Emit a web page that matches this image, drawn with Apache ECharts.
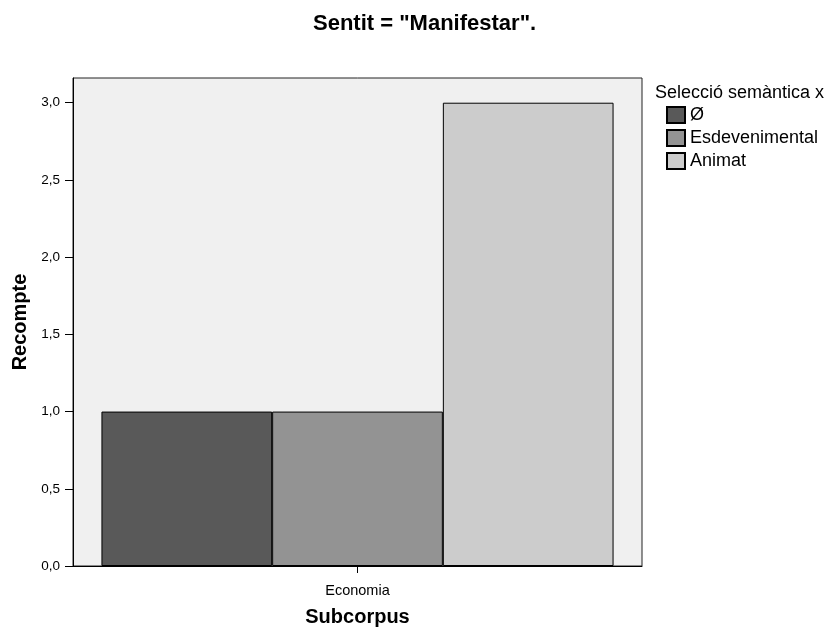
<!DOCTYPE html>
<html><head><meta charset="utf-8">
<script src="https://cdn.jsdelivr.net/npm/echarts@6/dist/echarts.min.js"></script>
<style>html,body{margin:0;padding:0;background:#fff}#c{width:833px;height:630px}</style>
</head><body><div id="c"></div>
<script>
const categories = ["Economia"];
const seriesNames = ["Ø", "Esdevenimental", "Animat"];
const seriesValues = [[1], [1], [3]];
const seriesColors = ["#595959", "#939393", "#cccccc"];
const yTicks = [0, 0.5, 1, 1.5, 2, 2.5, 3];

const chart = echarts.init(document.getElementById('c'));
const F = '"Liberation Sans", Arial, sans-serif';
chart.setOption({
  animation: false,
  title: [
    {text: 'Sentit = "Manifestar".', left: 308, top: 8,
     textStyle: {fontFamily: F, fontSize: 22, fontWeight: 'bold', color: '#000'}},
    {text: 'Selecció semàntica x', left: 650, top: 79,
     textStyle: {fontFamily: F, fontSize: 18, fontWeight: 'normal', color: '#000'}}
  ],
  legend: {
    orient: 'vertical', left: 661, top: 101, itemWidth: 18, itemHeight: 16, itemGap: 5,
    icon: 'rect', data: seriesNames,
    textStyle: {fontFamily: F, fontSize: 18, lineHeight: 18, color: '#000'}
  },
  grid: {left: 73, top: 78, right: 191, bottom: 64, show: true, outerBoundsMode: 'none',
         backgroundColor: '#f0f0f0', borderColor: '#222', borderWidth: 1},
  xAxis: {
    type: 'category', data: categories,
    name: 'Subcorpus', nameLocation: 'middle', nameGap: 41,
    nameTextStyle: {fontFamily: F, fontSize: 20, fontWeight: 'bold', color: '#000'},
    axisLine: {lineStyle: {color: '#000'}},
    axisTick: {show: true, interval: 0, alignWithLabel: true, length: 7, lineStyle: {color: '#000'}},
    axisLabel: {fontFamily: F, fontSize: 14.5, color: '#000', margin: 17}
  },
  yAxis: {
    type: 'value', min: 0, max: 3.16, interval: 0.5,
    name: 'Recompte', nameLocation: 'middle', nameGap: 39,
    nameTextStyle: {fontFamily: F, fontSize: 20, fontWeight: 'bold', color: '#000'},
    axisLine: {show: true, lineStyle: {color: '#000'}},
    axisTick: {show: true, length: 8, lineStyle: {color: '#000'}, customValues: yTicks},
    splitLine: {show: false},
    axisLabel: {fontFamily: F, fontSize: 13.5, color: '#000', margin: 13, customValues: yTicks,
      formatter: v => v.toFixed(1).replace('.', ',')}
  },
  series: seriesNames.map((n, i) => ({
    name: n, type: 'bar', data: seriesValues[i],
    barGap: '0%', barCategoryGap: '10%',
    itemStyle: {color: seriesColors[i], borderColor: '#000', borderWidth: 1}
  }))
});
</script></body></html>
